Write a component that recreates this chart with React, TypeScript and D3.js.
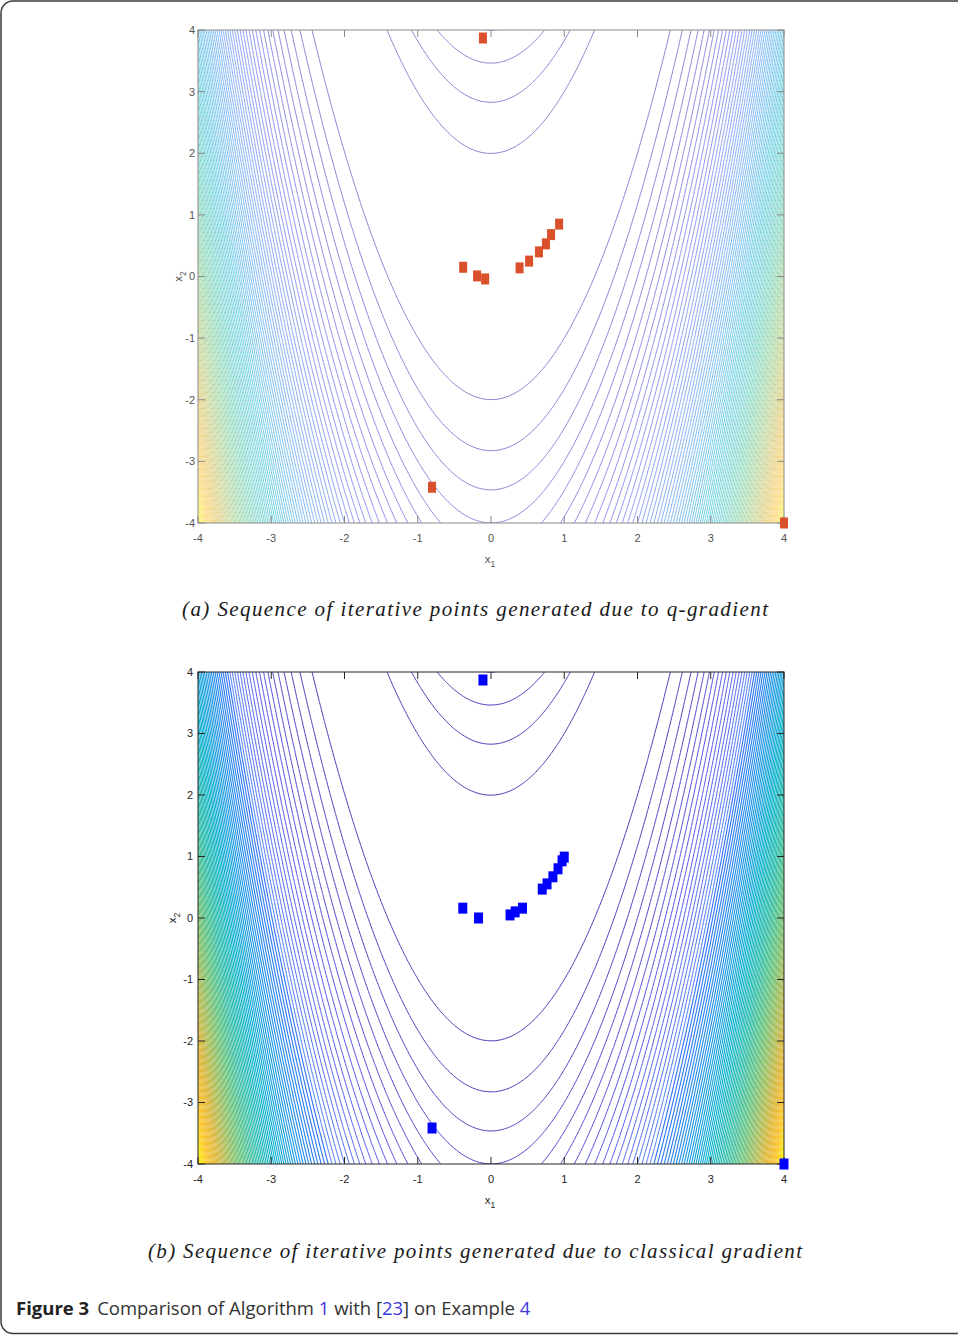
import React, { useMemo } from "react";
import * as d3 from "d3";

const W = 958;
const H = 1335;

const X_TICKS = [-4, -3, -2, -1, 0, 1, 2, 3, 4];
const Y_TICKS = [-4, -3, -2, -1, 0, 1, 2, 3, 4];
// contour levels of f(x1,x2) = 100 (x2 - x1^2)^2 + (1 - x1)^2
const LEVELS = d3.range(400, 40000, 400);
const F_MIN = 0;
const F_MAX = 40025;
// parula-like colormap anchors
const PARULA = [
  "#3e26a8",
  "#4747eb",
  "#3475f6",
  "#1e96e4",
  "#07b0cc",
  "#29bca9",
  "#62c37f",
  "#a4bf5e",
  "#ddb840",
  "#fcc532",
  "#f9fb0e",
];

// (a) q-gradient iterates
const Q_X1 = [-0.11, -0.38, -0.19, -0.08, 0.39, 0.52, 0.655, 0.75, 0.82, 0.93, -0.805, 4];
const Q_X2 = [3.87, 0.15, 0.01, -0.04, 0.14, 0.25, 0.4, 0.53, 0.68, 0.85, -3.42, -4];
// (b) classical gradient iterates
const C_X1 = [-0.11, -0.385, -0.17, 0.26, 0.33, 0.43, 0.7, 0.765, 0.845, 0.915, 0.97, 1.0, -0.805, 4];
const C_X2 = [3.87, 0.16, 0.0, 0.05, 0.1, 0.16, 0.47, 0.555, 0.67, 0.8, 0.93, 0.99, -3.415, -4];

const CAPTION_A = "(a) Sequence of iterative points generated due to q-gradient";
const CAPTION_B = "(b) Sequence of iterative points generated due to classical gradient";

const NX = 440;
const NY = 380;
const G0 = -4.1;
const G1 = 4.1;

function rosen(x1: number, x2: number) {
  return 100 * (x2 - x1 * x1) ** 2 + (1 - x1) ** 2;
}

const colorScale = d3
  .scaleLinear<string>()
  .domain(PARULA.map((_, i) => F_MIN + (i / (PARULA.length - 1)) * (F_MAX - F_MIN)))
  .range(PARULA)
  .interpolate(d3.interpolateRgb);

type PanelProps = {
  id: string;
  left: number;
  right: number;
  top: number;
  bottom: number;
  contours: d3.ContourMultiPolygon[];
  faded: boolean;
  px: number[];
  py: number[];
  markerColor: string;
  markerW: number;
  markerH: number;
  axisColor: string;
  labelColor: string;
  yLabelEnd: number;
  x2LabelX: number;
};

function Panel(p: PanelProps) {
  const x = d3.scaleLinear().domain([-4, 4]).range([p.left, p.right]);
  const y = d3.scaleLinear().domain([-4, 4]).range([p.bottom, p.top]);
  const sx = (G1 - G0) / (NX - 1);
  const sy = (G1 - G0) / (NY - 1);
  const path = d3.geoPath(
    d3.geoTransform({
      point(gx: number, gy: number) {
        (this as any).stream.point(x(G0 + (gx - 0.5) * sx), y(G0 + (gy - 0.5) * sy));
      },
    })
  );
  const tick = 7;
  const tf = "Liberation Sans, Arial, sans-serif";
  return (
    <g>
      <defs>
        <clipPath id={p.id}>
          <rect x={p.left} y={p.top} width={p.right - p.left} height={p.bottom - p.top} />
        </clipPath>
      </defs>
      <g clipPath={`url(#${p.id})`} opacity={p.faded ? 0.75 : 1}>
        {p.contours.map((c, i) => {
          const base = colorScale(c.value);
          const col = p.faded ? d3.interpolateRgb(base, "#ffffff")(0.18) : base;
          const sw = p.faded ? 1.0 : c.value < 8000 ? 0.95 : 1.15;
          return <path key={i} d={path(c) || ""} fill="none" stroke={col} strokeWidth={sw} />;
        })}
      </g>
      <rect
        x={p.left}
        y={p.top}
        width={p.right - p.left}
        height={p.bottom - p.top}
        fill="none"
        stroke={p.axisColor}
        strokeWidth={1}
      />
      {X_TICKS.map((t) => (
        <g key={"xt" + t}>
          <line x1={x(t)} x2={x(t)} y1={p.bottom} y2={p.bottom - tick} stroke={p.axisColor} />
          <line x1={x(t)} x2={x(t)} y1={p.top} y2={p.top + tick} stroke={p.axisColor} />
          <text
            x={x(t)}
            y={p.bottom + 19}
            textAnchor="middle"
            fontFamily={tf}
            fontSize={11}
            fill={p.labelColor}
          >
            {t}
          </text>
        </g>
      ))}
      {Y_TICKS.map((t) => (
        <g key={"yt" + t}>
          <line x1={p.left} x2={p.left + tick} y1={y(t)} y2={y(t)} stroke={p.axisColor} />
          <line x1={p.right} x2={p.right - tick} y1={y(t)} y2={y(t)} stroke={p.axisColor} />
          <text
            x={p.yLabelEnd}
            y={y(t)}
            dy="0.36em"
            textAnchor="end"
            fontFamily={tf}
            fontSize={11}
            fill={p.labelColor}
          >
            {t}
          </text>
        </g>
      ))}
      <text
        x={x(0) - 1}
        y={p.bottom + 40}
        textAnchor="middle"
        fontFamily={tf}
        fontSize={11.5}
        fill={p.labelColor}
      >
        x<tspan dy={4} fontSize={8.5}>1</tspan>
      </text>
      <text
        transform={`translate(${p.x2LabelX},${y(0)}) rotate(-90)`}
        textAnchor="middle"
        fontFamily={tf}
        fontSize={11.5}
        fill={p.labelColor}
      >
        x<tspan dy={4} fontSize={8.5}>2</tspan>
      </text>
      {p.px.map((v, i) => (
        <rect
          key={"m" + i}
          x={x(v) - p.markerW / 2}
          y={y(p.py[i]) - p.markerH / 2}
          width={p.markerW}
          height={p.markerH}
          fill={p.markerColor}
        />
      ))}
    </g>
  );
}

export default function App() {
  const contours = useMemo(() => {
    const values = new Array(NX * NY);
    const sx = (G1 - G0) / (NX - 1);
    const sy = (G1 - G0) / (NY - 1);
    for (let j = 0; j < NY; j++) {
      const x2 = G0 + j * sy;
      for (let i = 0; i < NX; i++) {
        const x1 = G0 + i * sx;
        values[j * NX + i] = rosen(x1, x2);
      }
    }
    return d3.contours().size([NX, NY]).thresholds(LEVELS)(values);
  }, []);

  const serif = "'Liberation Serif', 'DejaVu Serif', serif";
  const sans = "'Open Sans', 'Noto Sans', sans-serif";

  return (
    <svg
      width={W}
      height={H}
      viewBox={`0 0 ${W} ${H}`}
      style={{ position: "absolute", left: 0, top: 0, background: "#fff" }}
    >
      <rect x={1} y={1} width={W + 10} height={H - 2.5} rx={12} fill="none" stroke="#3a3a3a" strokeWidth={1.5} />
      <Panel
        id="clipA"
        left={198}
        right={784}
        top={30}
        bottom={523}
        contours={contours}
        faded={true}
        px={Q_X1}
        py={Q_X2}
        markerColor="#d9502b"
        markerW={8}
        markerH={11}
        axisColor="#8a8a8a"
        labelColor="#555555"
        yLabelEnd={195}
        x2LabelX={182}
      />
      <Panel
        id="clipB"
        left={198}
        right={784}
        top={672}
        bottom={1164}
        contours={contours}
        faded={false}
        px={C_X1}
        py={C_X2}
        markerColor="#0000ff"
        markerW={9}
        markerH={11}
        axisColor="#262626"
        labelColor="#262626"
        yLabelEnd={193}
        x2LabelX={176}
      />
      <text
        x={182}
        y={616}
        fontFamily={serif}
        fontStyle="italic"
        fontSize={21}
        fill="#1a1a1a"
        textLength={586}
        lengthAdjust="spacing"
      >
        {CAPTION_A}
      </text>
      <text
        x={148}
        y={1258}
        fontFamily={serif}
        fontStyle="italic"
        fontSize={21}
        fill="#1a1a1a"
        textLength={654}
        lengthAdjust="spacing"
      >
        {CAPTION_B}
      </text>
      <text x={16} y={1315} fontFamily={sans} fontSize={18.5} fill="#333">
        <tspan fontWeight="bold" fill="#222">Figure 3</tspan>
        <tspan dx={8}>Comparison of Algorithm </tspan>
        <tspan fill="#3b3bdc">1</tspan>
        <tspan> with [</tspan>
        <tspan fill="#3b3bdc">23</tspan>
        <tspan>] on Example </tspan>
        <tspan fill="#3b3bdc">4</tspan>
      </text>
    </svg>
  );
}
